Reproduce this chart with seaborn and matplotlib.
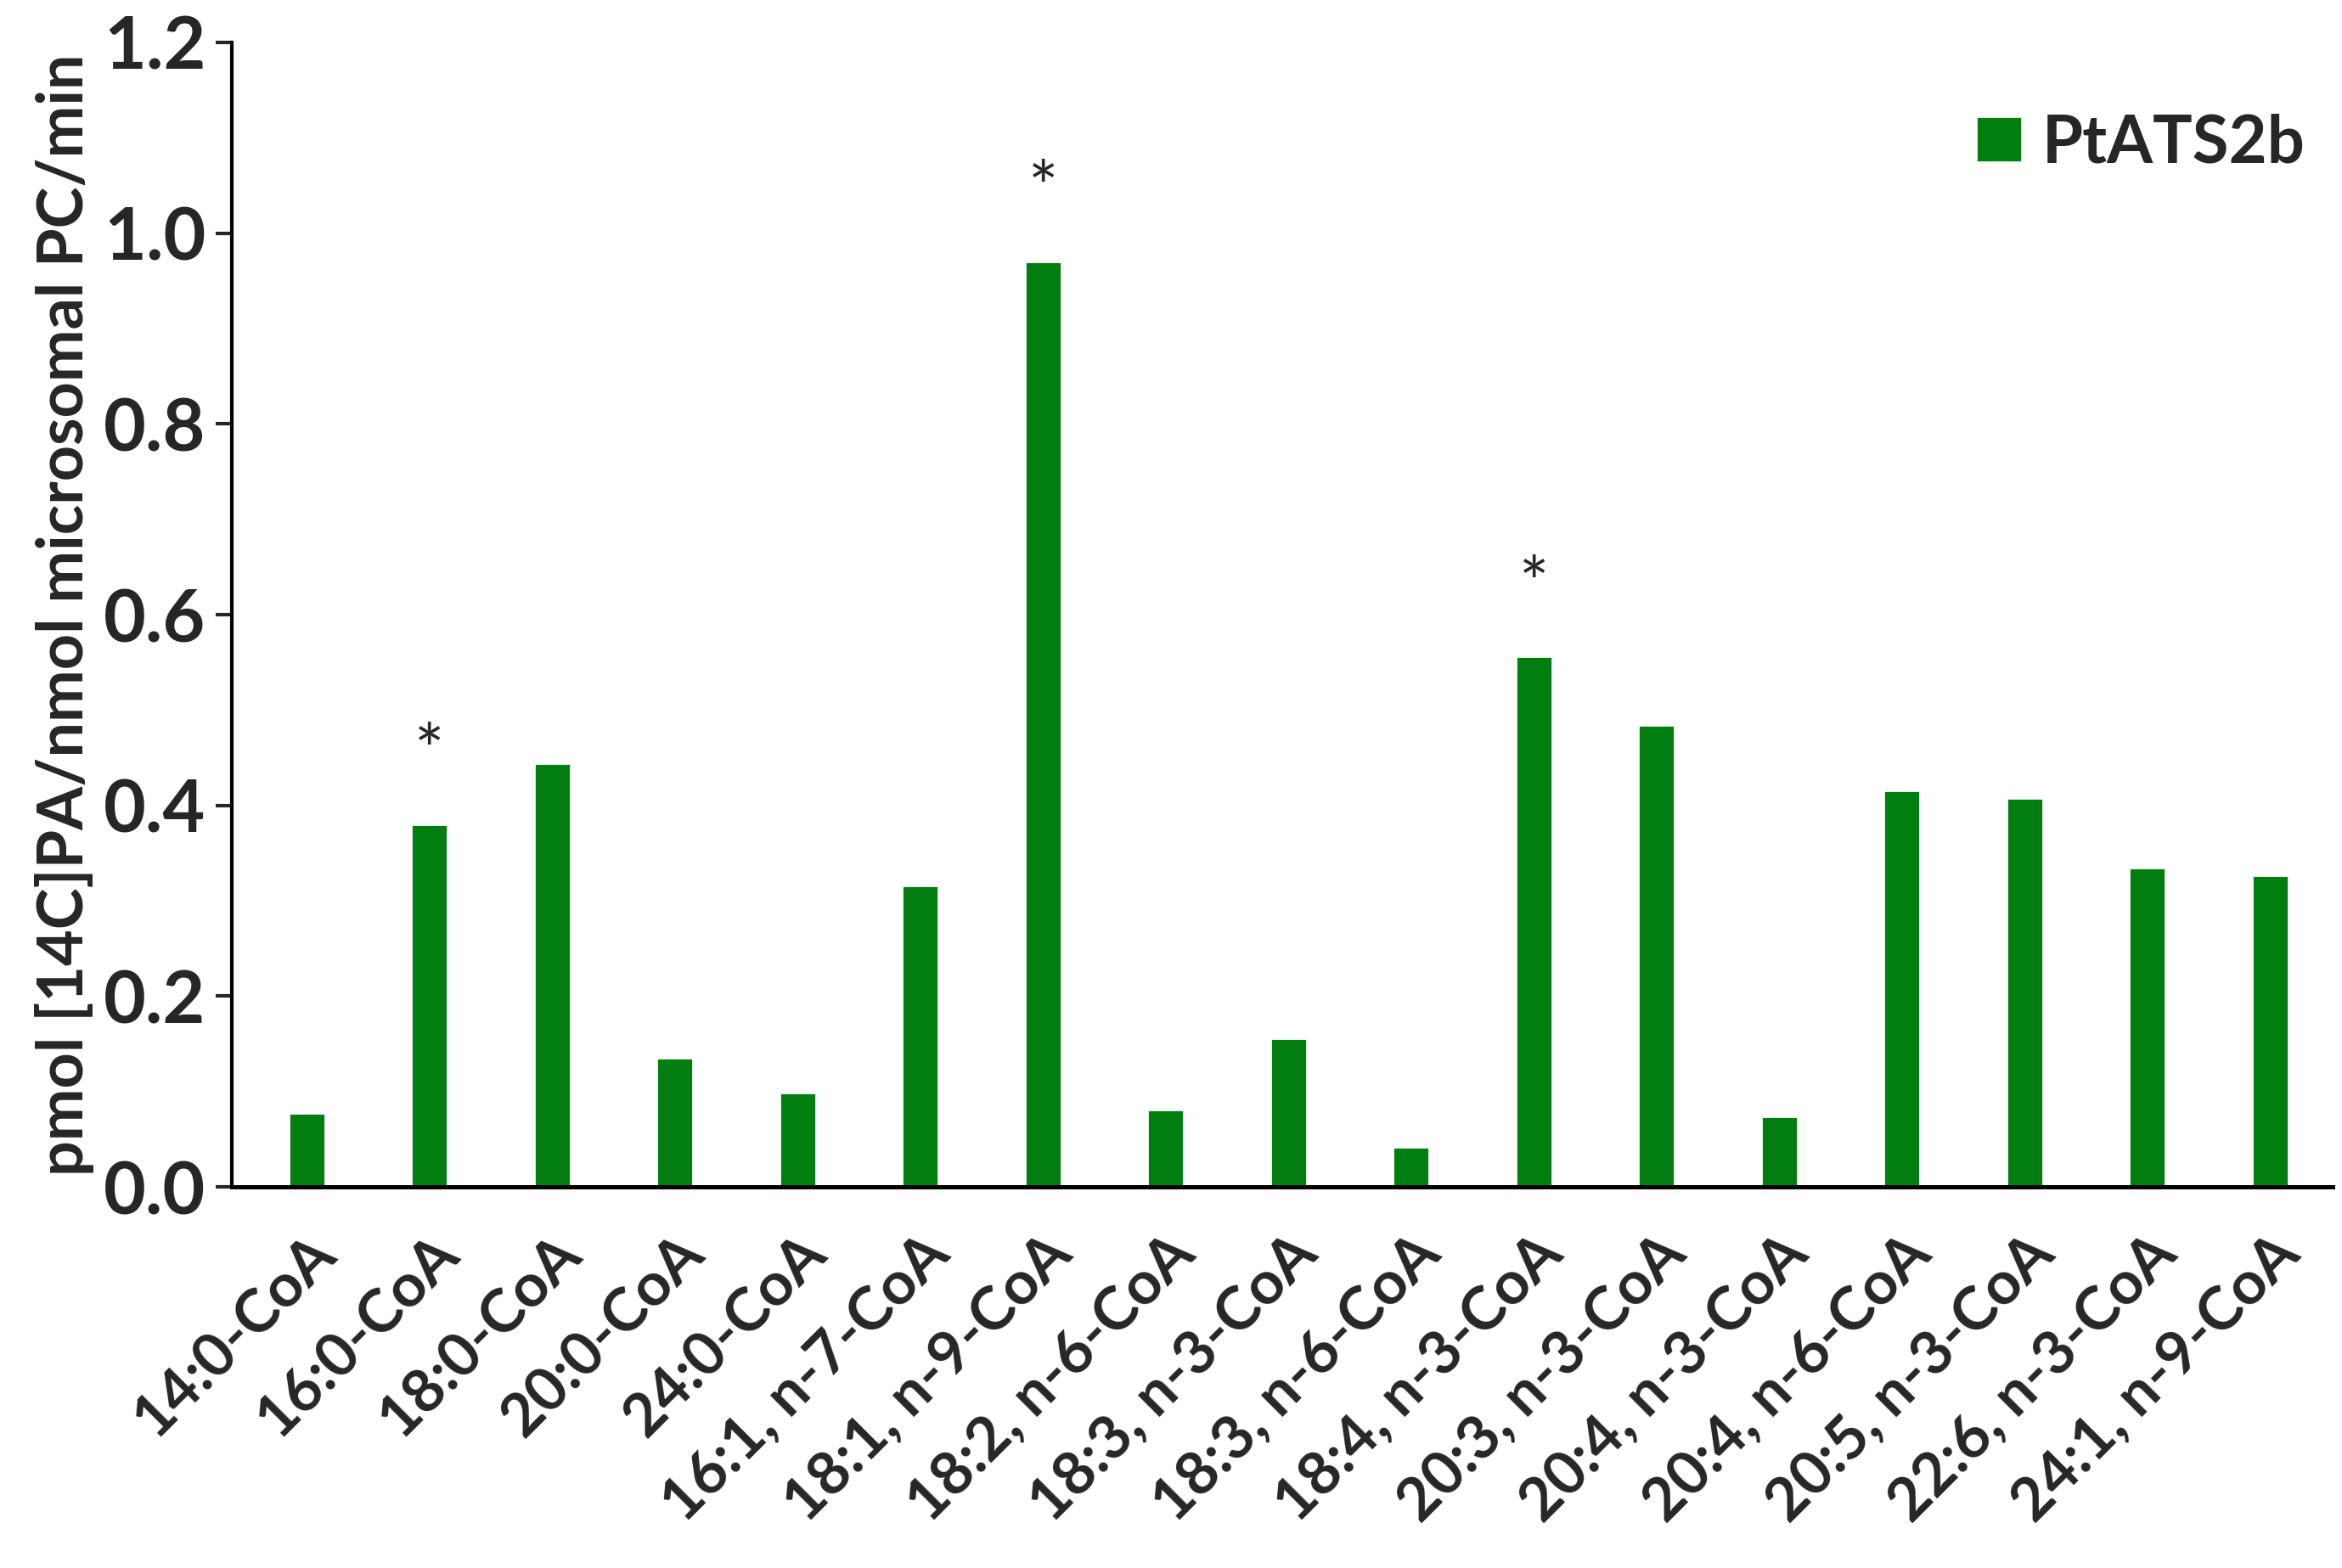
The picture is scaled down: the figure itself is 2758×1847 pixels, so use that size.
import pandas as pd
import seaborn as sns
import matplotlib.pyplot as plt

# values
substrates = ['14:0-CoA', '16:0-CoA', '18:0-CoA', '20:0-CoA', '24:0-CoA',
              '16:1, n-7-CoA', '18:1, n-9-CoA', '18:2, n-6-CoA', '18:3, n-3-CoA',
              '18:3, n-6-CoA', '18:4, n-3-CoA', '20:3, n-3-CoA', '20:4, n-3-CoA',
              '20:4, n-6-CoA', '20:5, n-3-CoA', '22:6, n-3-CoA', '24:1, n-9-CoA']
activity = [0.078, 0.380, 0.444, 0.135, 0.099, 0.316, 0.970, 0.081, 0.156,
            0.042, 0.556, 0.484, 0.074, 0.416, 0.408, 0.335, 0.327]
significant = ['16:0-CoA', '18:1, n-9-CoA', '18:4, n-3-CoA']
series_name = 'PtATS2b'
yticks = [0.0, 0.2, 0.4, 0.6, 0.8, 1.0, 1.2]

df = pd.DataFrame({'substrate': substrates, 'activity': activity})
df['series'] = series_name

sns.set_style('white')
plt.rcParams['font.family'] = ['Lato', 'DejaVu Sans']

green = '#027D10'

fig = plt.figure(figsize=(13.79, 9.235), dpi=200)
ax = fig.add_axes([0.099, 0.243, 0.897, 0.730])

sns.barplot(data=df, x='substrate', y='activity', hue='series',
            palette=[green], width=0.3, ax=ax, saturation=1)

# asterisks above the significant bars
for i, (s, v) in enumerate(zip(substrates, activity)):
    if s in significant:
        ax.text(i, v + 0.072, '*', ha='center', va='center', fontsize=30)

ax.set_ylim(0, 1.2)
ax.set_xlim(-0.61, 16.51)
ax.set_yticks(yticks)
ax.set_yticklabels([f'{t:.1f}' for t in yticks], fontsize=31, fontweight='bold')
ax.set_xticks(range(len(substrates)))
ax.set_xticklabels(substrates, rotation=45, ha='right', rotation_mode='anchor',
                   fontsize=25.5, fontweight='bold')
ax.tick_params(axis='y', direction='out', length=7, width=1.5, left=True, pad=4)
ax.tick_params(axis='x', length=0, pad=16)

ax.set_xlabel('')
ax.set_ylabel('pmol [14C]PA/nmol microsomal PC/min', fontsize=26.5,
              fontweight='bold', labelpad=4)

for side in ['top', 'right']:
    ax.spines[side].set_visible(False)
ax.spines['left'].set_linewidth(1.5)
ax.spines['bottom'].set_linewidth(1.8)
ax.spines['left'].set_color('black')
ax.spines['bottom'].set_color('black')

ax.legend(frameon=False, loc='upper right', bbox_to_anchor=(1.015, 0.99),
          handlelength=0.7, handleheight=0.7, handletextpad=0.3,
          prop={'size': 28, 'weight': 'bold'})

fig.savefig('out.png', dpi=200)
